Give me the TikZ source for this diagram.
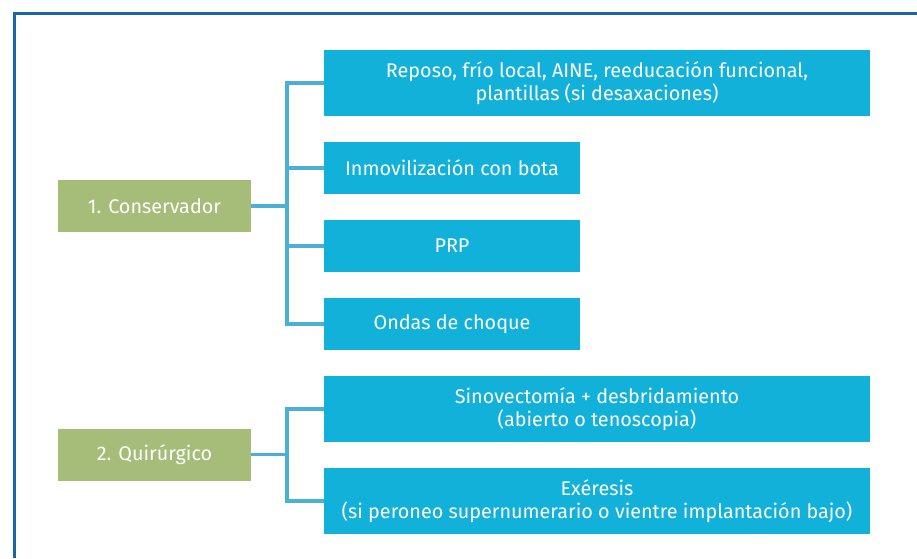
\documentclass[tikz,border=0pt]{standalone}
\usepackage{fontspec}
\setmainfont{Fira Sans}
\usepackage{tikz}
\usetikzlibrary{calc}
\definecolor{marco}{HTML}{1B67A6}
\definecolor{cian}{HTML}{12B1DA}
\definecolor{verde}{HTML}{A5BD78}
\definecolor{linea}{HTML}{4CB0D6}

\begin{document}
\begin{tikzpicture}[x=1pt,y=-1pt,
  caja/.style={fill=cian,text=white,inner sep=0pt,align=center,
    font=\fontsize{19.8}{23.5}\selectfont},
  grupo/.style={fill=verde,text=white,inner sep=0pt,minimum width=193pt,minimum height=52pt,
    font=\fontsize{19.8}{23.5}\selectfont},
  conn/.style={draw=linea,line width=3.5pt}]
\useasboundingbox (0,0) rectangle (917,558);
% marco
\draw[marco,line width=3pt] (14,558) -- (14,13.3) -- (917,13.3);
% tratamientos
\node[grupo] (cons) at (154.5,206) {1. Conservador};
\node[grupo] (quir) at (154.5,454.5) {2. Quirúrgico};
\node[caja,minimum width=546pt,minimum height=66pt] (reposo) at (597,83)
  {Reposo, frío local, AINE, reeducación funcional,\\plantillas (si desaxaciones)};
\node[caja,minimum width=256pt,minimum height=52pt] (bota) at (452,168) {Inmovilización con bota};
\node[caja,minimum width=256pt,minimum height=52pt] (prp) at (452,246) {PRP};
\node[caja,minimum width=256pt,minimum height=52pt] (ondas) at (452,324) {Ondas de choque};
\node[caja,minimum width=546pt,minimum height=66pt] (sino) at (597,409)
  {Sinovectomía + desbridamiento\\(abierto o tenoscopia)};
\node[caja,minimum width=546pt,minimum height=66pt] (exer) at (597,501)
  {Exéresis\\(si peroneo supernumerario o vientre implantación bajo)};
% conectores
\coordinate (r1) at (287,206);
\coordinate (r2) at (287,454.5);
\draw[conn] (cons.east) -- (r1);
\draw[conn] (reposo.west) -| (r1) |- (ondas.west);
\draw[conn] (r1) |- (bota.west);
\draw[conn] (r1) |- (prp.west);
\draw[conn] (quir.east) -- (r2);
\draw[conn] (sino.west) -| (r2) |- (exer.west);
\end{tikzpicture}
\end{document}
